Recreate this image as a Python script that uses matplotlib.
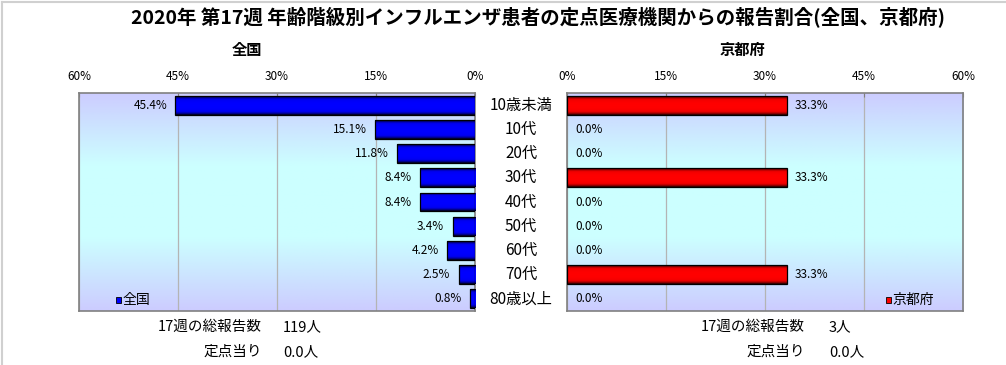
import numpy as np
import matplotlib
matplotlib.use('Agg')
import matplotlib.pyplot as plt
from matplotlib.colors import LinearSegmentedColormap
from matplotlib.patches import Rectangle
from matplotlib.transforms import blended_transform_factory

plt.rcParams['font.family'] = ['Noto Sans CJK JP', 'DejaVu Sans']

#%% data
ages = ['10歳未満', '10代', '20代', '30代', '40代', '50代', '60代', '70代', '80歳以上']
zenkoku = [45.4, 15.1, 11.8, 8.4, 8.4, 3.4, 4.2, 2.5, 0.8]
kyoto = [33.3, 0.0, 0.0, 33.3, 0.0, 0.0, 0.0, 33.3, 0.0]
ticks = [0, 15, 30, 45, 60]
title = '2020年 第17週 年齢階級別インフルエンザ患者の定点医療機関からの報告割合(全国、京都府)'
total_zenkoku = '119人'
total_kyoto = '3人'
per_point_zenkoku = '0.0人'
per_point_kyoto = '0.0人'

#%% helpers
W, H = 1006, 365
fig = plt.figure(figsize=(W / 100, H / 100), dpi=100)

def px_axes(x0, y0, x1, y1):
    return fig.add_axes([x0 / W, 1 - y1 / H, (x1 - x0) / W, (y1 - y0) / H])

bg_cmap = LinearSegmentedColormap.from_list('bg', ['#ccccff', '#ccffff', '#ccffff', '#ccccff'])
blue_cmap = LinearSegmentedColormap.from_list('b', ['#0000ff', '#0000f0', '#000090', '#000010'])
red_cmap = LinearSegmentedColormap.from_list('r', ['#ff0000', '#f00000', '#900000', '#200000'])

def setup(ax, color_cmap, values):
    ax.set_facecolor('#ccffff')
    grad = np.linspace(0, 1, 200).reshape(-1, 1)
    ax.imshow(grad, cmap=bg_cmap, extent=(0, 1, 0, 1), transform=ax.transAxes,
              aspect='auto', zorder=0)
    y = np.arange(len(ages))
    bars = ax.barh(y, values, height=0.78, color='none', edgecolor='black',
                   linewidth=0.9, zorder=4)
    g = np.abs(np.linspace(-1, 1, 60)) ** 2.5
    for b in bars:
        if b.get_width() <= 0:
            b.set_visible(False)
            continue
        x0, y0 = b.get_x(), b.get_y()
        im = ax.imshow(g.reshape(-1, 1), cmap=color_cmap,
                       extent=(x0, x0 + b.get_width(), y0, y0 + b.get_height()),
                       aspect='auto', zorder=3, interpolation='bilinear')
        im.set_clip_path(b)
    ax.set_ylim(len(ages) - 0.5, -0.5)
    ax.set_xticks(ticks)
    ax.set_xticklabels([f'{t}%' for t in ticks], fontsize=8.5)
    ax.xaxis.tick_top()
    ax.tick_params(axis='x', length=3, direction='in', color='#808080', pad=7)
    ax.set_yticks([])
    ax.grid(axis='x', color='#b4b4b4', linewidth=0.9, zorder=1)
    ax.set_axisbelow(True)
    for s in ax.spines.values():
        s.set_color('#808080')
        s.set_linewidth(1.2)
    return bars

#%% left panel (全国)
axL = px_axes(79, 93, 475, 311)
setup(axL, blue_cmap, zenkoku)
axL.set_xlim(60, 0)
for i, v in enumerate(zenkoku):
    axL.annotate(f'{v:.1f}%', (v, i), xytext=(-6, 0), textcoords='offset points',
                 ha='right', va='center', fontsize=8.5, zorder=5)

#%% right panel (京都府)
axR = px_axes(567, 93, 963, 311)
setup(axR, red_cmap, kyoto)
axR.set_xlim(0, 60)
for i, v in enumerate(kyoto):
    axR.annotate(f'{v:.1f}%', (v, i), xytext=(6, 0), textcoords='offset points',
                 ha='left', va='center', fontsize=8.5, zorder=5)

#%% category labels between the panels
tr = blended_transform_factory(fig.transFigure, axL.transData)
for i, a in enumerate(ages):
    fig.text(521 / W, i, a, transform=tr, ha='center', va='center', fontsize=11)

#%% legends
for ax, x, col, name in [(axL, 0.093, '#0000ff', '全国'), (axR, 0.805, '#ff0000', '京都府')]:
    ax.add_patch(Rectangle((x, 0.035), 0.013, 0.03, transform=ax.transAxes,
                           facecolor=col, edgecolor='black', linewidth=0.6, zorder=6))
    ax.text(x + 0.017, 0.05, name, transform=ax.transAxes, ha='left', va='center',
            fontsize=10, zorder=6)

#%% titles and texts
fig.text(538 / W, 1 - 17 / H, title, ha='center', va='center', fontsize=14, fontweight='bold')
fig.text(247 / W, 1 - 50 / H, '全国', ha='center', va='center', fontsize=11, fontweight='bold')
fig.text(742 / W, 1 - 50 / H, '京都府', ha='center', va='center', fontsize=11, fontweight='bold')

fs = 10.5
fig.text(262 / W, 1 - 327 / H, '17週の総報告数', ha='right', va='center', fontsize=fs)
fig.text(283 / W, 1 - 327 / H, total_zenkoku, ha='left', va='center', fontsize=fs)
fig.text(262 / W, 1 - 352 / H, '定点当り', ha='right', va='center', fontsize=fs)
fig.text(283 / W, 1 - 352 / H, per_point_zenkoku, ha='left', va='center', fontsize=fs)

fig.text(805 / W, 1 - 327 / H, '17週の総報告数', ha='right', va='center', fontsize=fs)
fig.text(829 / W, 1 - 327 / H, total_kyoto, ha='left', va='center', fontsize=fs)
fig.text(805 / W, 1 - 352 / H, '定点当り', ha='right', va='center', fontsize=fs)
fig.text(829 / W, 1 - 352 / H, per_point_kyoto, ha='left', va='center', fontsize=fs)

# thin frame lines on left and top
fig.add_artist(plt.Line2D([1.5 / W, 1.5 / W], [0, 1 - 1.5 / H], color='#d0d0d0', lw=1.5))
fig.add_artist(plt.Line2D([1.5 / W, 1], [1 - 1.5 / H, 1 - 1.5 / H], color='#d0d0d0', lw=1.5))

fig.savefig('out.png', dpi=100)
